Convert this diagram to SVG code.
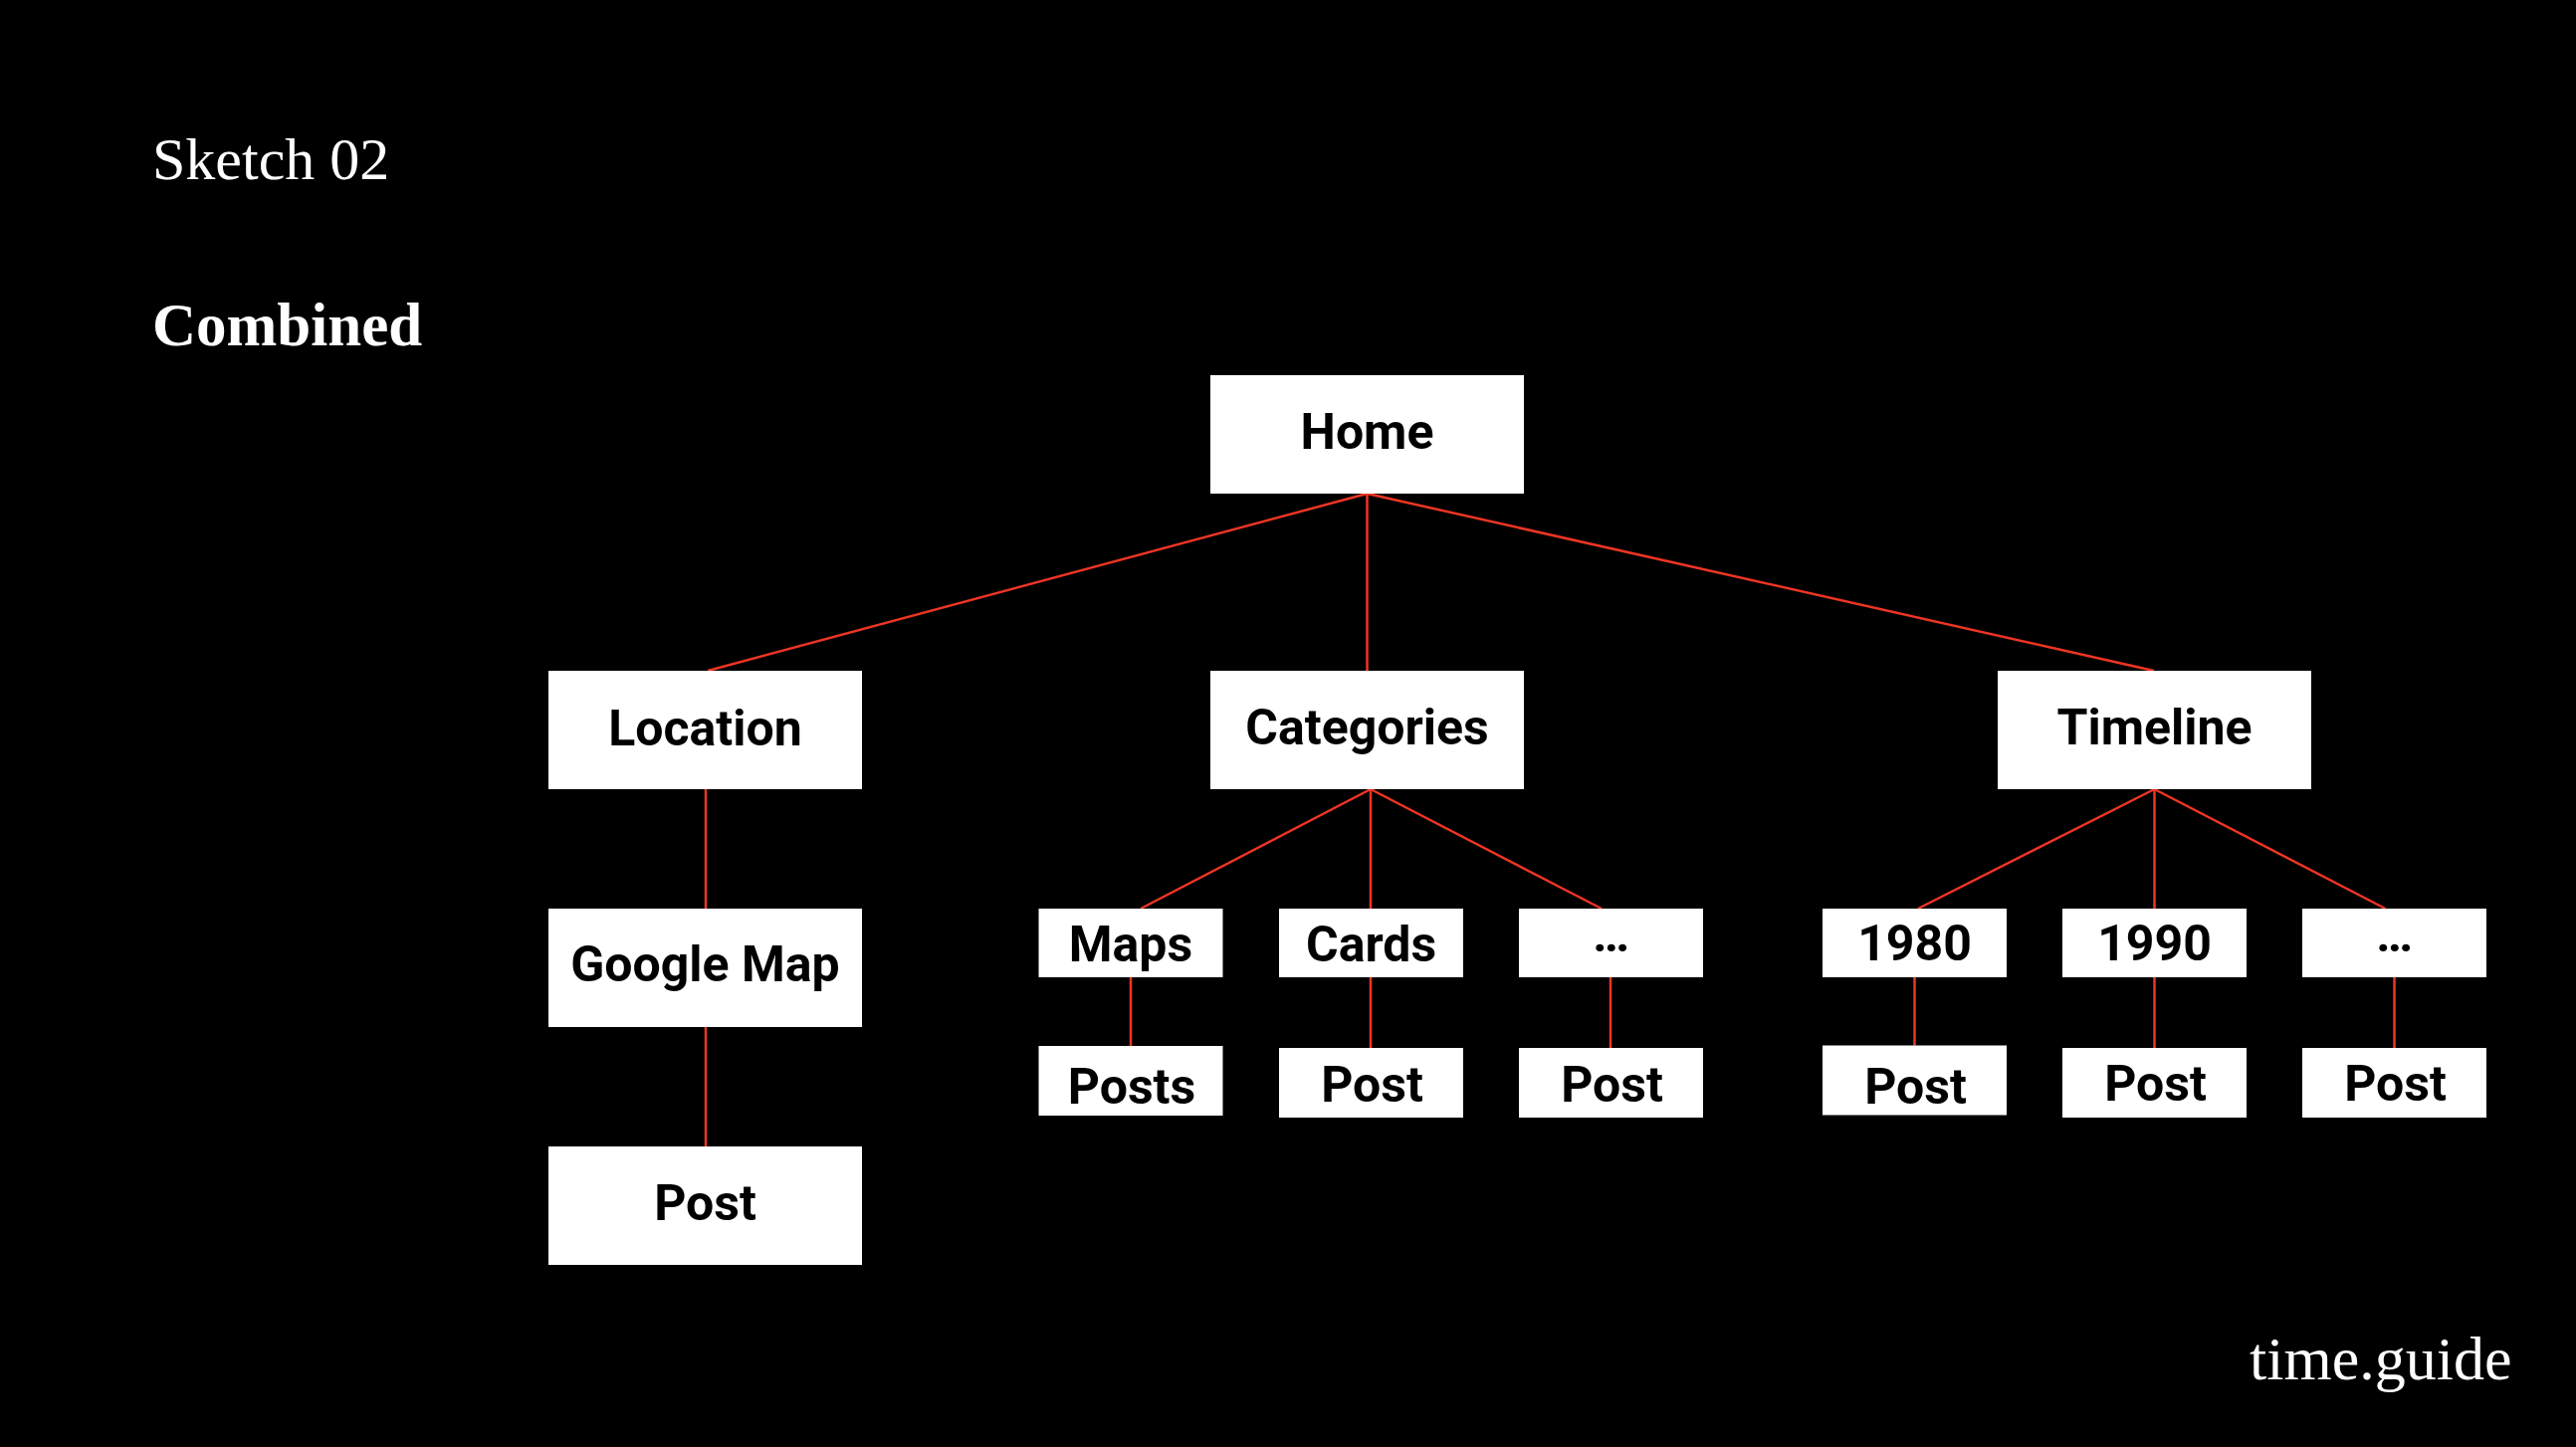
<svg xmlns="http://www.w3.org/2000/svg" width="2588" height="1454" viewBox="0 0 2588 1454">
<style>
.bg{fill:#000}
.box{fill:#fff}
.lbl{font-family:Roboto,"Liberation Sans",Arial,sans-serif;font-weight:700;font-size:50px;fill:#000;text-anchor:middle}
.ser{font-family:"Liberation Serif","Times New Roman",serif;fill:#fff}
.con line{stroke:#ee3524;stroke-width:2.5;fill:none}
</style>
<rect class="bg" x="0" y="0" width="2588" height="1454"/>
<text class="ser" x="153" y="180" font-size="60">Sketch 02</text>
<text class="ser" x="153" y="347" font-size="61" font-weight="700">Combined</text>
<text class="ser" x="2260" y="1386" font-size="62">time.guide</text>
<g id="connectors" class="con">
<line x1="1373.5" y1="496" x2="711" y2="674"/>
<line x1="1373.5" y1="496" x2="1373.5" y2="674"/>
<line x1="1373.5" y1="496" x2="2164" y2="674"/>
<line x1="709" y1="793" x2="709" y2="913"/>
<line x1="709" y1="1032" x2="709" y2="1152"/>
<line x1="1377" y1="793" x2="1146" y2="913"/>
<line x1="1377" y1="793" x2="1377" y2="913"/>
<line x1="1377" y1="793" x2="1609" y2="913"/>
<line x1="2164.5" y1="793" x2="1927" y2="913"/>
<line x1="2164.5" y1="793" x2="2164.5" y2="913"/>
<line x1="2164.5" y1="793" x2="2396.5" y2="913"/>
<line x1="1136" y1="982" x2="1136" y2="1051"/>
<line x1="1377" y1="982" x2="1377" y2="1053"/>
<line x1="1618" y1="982" x2="1618" y2="1053"/>
<line x1="1923.5" y1="982" x2="1923.5" y2="1050.5"/>
<line x1="2164.5" y1="982" x2="2164.5" y2="1053"/>
<line x1="2405.5" y1="982" x2="2405.5" y2="1053"/>
</g>
<g id="home"><rect class="box" x="1216" y="377" width="315" height="119"/><text class="lbl" x="1373.5" y="451">Home</text></g>
<g id="location"><rect class="box" x="551" y="674" width="315" height="119"/><text class="lbl" x="708.5" y="749">Location</text></g>
<g id="categories"><rect class="box" x="1216" y="674" width="315" height="119"/><text class="lbl" x="1373.5" y="748">Categories</text></g>
<g id="timeline"><rect class="box" x="2007" y="674" width="315" height="119"/><text class="lbl" x="2164.5" y="748">Timeline</text></g>
<g id="google-map"><rect class="box" x="551" y="913" width="315" height="119"/><text class="lbl" x="708.5" y="986">Google Map</text></g>
<g id="location-post"><rect class="box" x="551" y="1152" width="315" height="119"/><text class="lbl" x="708.5" y="1226">Post</text></g>
<g id="maps"><rect class="box" x="1043.5" y="913" width="185" height="69"/><text class="lbl" x="1136" y="966">Maps</text></g>
<g id="cards"><rect class="box" x="1285" y="913" width="185" height="69"/><text class="lbl" x="1377.5" y="966">Cards</text></g>
<g id="cat-more"><rect class="box" x="1526" y="913" width="185" height="69"/><text class="lbl" x="1618.5" y="956">…</text></g>
<g id="y1980"><rect class="box" x="1831" y="913" width="185" height="69"/><text class="lbl" x="1923.5" y="965">1980</text></g>
<g id="y1990"><rect class="box" x="2072" y="913" width="185" height="69"/><text class="lbl" x="2164.5" y="965">1990</text></g>
<g id="time-more"><rect class="box" x="2313" y="913" width="185" height="69"/><text class="lbl" x="2405.5" y="956">…</text></g>
<g id="maps-posts"><rect class="box" x="1043.5" y="1051" width="185" height="70"/><text class="lbl" x="1137" y="1109">Posts</text></g>
<g id="cards-post"><rect class="box" x="1285" y="1053" width="185" height="70"/><text class="lbl" x="1378.5" y="1107">Post</text></g>
<g id="cat-more-post"><rect class="box" x="1526" y="1053" width="185" height="70"/><text class="lbl" x="1619.5" y="1107">Post</text></g>
<g id="y1980-post"><rect class="box" x="1831" y="1050.5" width="185" height="70"/><text class="lbl" x="1924.5" y="1109">Post</text></g>
<g id="y1990-post"><rect class="box" x="2072" y="1053" width="185" height="70"/><text class="lbl" x="2165.5" y="1106">Post</text></g>
<g id="time-more-post"><rect class="box" x="2313" y="1053" width="185" height="70"/><text class="lbl" x="2406.5" y="1106">Post</text></g>
</svg>
